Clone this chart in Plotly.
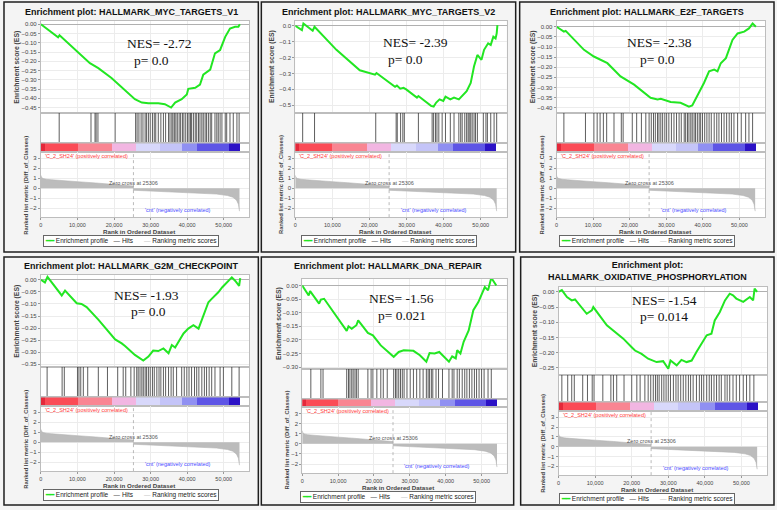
import plotly.graph_objects as go

# ------------------------------------------------------------------ data
TITLES = ["Enrichment plot: HALLMARK_MYC_TARGETS_V1",
          "Enrichment plot: HALLMARK_MYC_TARGETS_V2",
          "Enrichment plot: HALLMARK_E2F_TARGETS",
          "Enrichment plot: HALLMARK_G2M_CHECKPOINT",
          "Enrichment plot: HALLMARK_DNA_REPAIR",
          "Enrichment plot:<br>HALLMARK_OXIDATIVE_PHOSPHORYLATION"]
NES = ["-2.72", "-2.39", "-2.38", "-1.93", "-1.56", "-1.54"]
PVAL = ["0.0", "0.0", "0.0", "0.0", "0.021", "0.014"]

ZERO_CROSS = 25306
X_TICKS = [0, 10000, 20000, 30000, 40000, 50000]
X_TICK_LABELS = ["0", "10,000", "20,000", "30,000", "40,000", "50,000"]
RANK_TICKS = [-2, -1, 0, 1, 2, 3]
POS_LABEL = "'C_2_SH24' (positively correlated)"
NEG_LABEL = "'cnt' (negatively correlated)"
ZERO_LABEL = "Zero cross at 25306"

ES1_RANK = [0, 4700, 5100, 13400, 15700, 19300, 25700, 27600, 29400, 32100, 33900, 35600, 36700,
            38500, 39900, 40300, 42200, 43500, 44400, 46300, 47600, 49000, 50400, 51700, 53100, 54000, 54400]
ES1_SCORE = [0, -0.071, -0.059, -0.21, -0.237, -0.29, -0.405, -0.423, -0.427, -0.427, -0.432, -0.45, -0.423,
             -0.405, -0.379, -0.349, -0.343, -0.326, -0.272, -0.245, -0.157, -0.139, -0.068, -0.023, -0.014, -0.014, 0.0]
HITS1 = [5000, 13700, 14800, 15100, 15600, 20300, 25900, 26300, 26800, 27400, 27900, 28500, 28900, 29400,
         29900, 30500, 31000, 31400, 32100, 32800, 33500, 34100, 34900, 35300, 35800, 36100, 36500, 36900,
         37300, 37800, 38200, 38700, 39100, 39600, 40100, 40500, 40900, 41200, 41700, 42200, 42600, 43100,
         43500, 44000, 44400, 44900, 45300, 45800, 46300, 46700, 47600, 48100, 48500, 49000, 49500, 50400,
         50800, 51700, 52600, 53600, 54200]

ES2_RANK = [0, 1100, 1800, 2200, 4700, 5200, 11100, 17400, 21500, 21900, 26900, 27400, 28300, 29200, 29900,
            32800, 33200, 36600, 37300, 38000, 38900, 39900, 40500, 41800, 42800, 44100, 45000, 46200, 47300,
            48200, 49100, 50200, 50900, 52000, 52700, 53400, 54000, 54300, 54500]
ES2_SCORE = [0, -0.017, -0.027, 0.015, -0.031, -0.006, -0.151, -0.28, -0.307, -0.297, -0.384, -0.376, -0.396,
             -0.39, -0.40, -0.452, -0.442, -0.504, -0.508, -0.483, -0.463, -0.473, -0.446, -0.463, -0.452,
             -0.463, -0.442, -0.411, -0.359, -0.255, -0.183, -0.214, -0.151, -0.11, -0.12, -0.068, -0.079,
             -0.048, 0.004]
HITS2 = [2000, 5200, 21700, 27200, 27500, 28400, 29000, 29400, 33200, 36900, 37300, 37800, 38200, 38700,
         39600, 40500, 41800, 42800, 44100, 44600, 45000, 45700, 46200, 46600, 46900, 47300, 47700, 48200,
         48600, 49100, 50700, 51400, 51800, 52700, 53600, 54300]

ES3_RANK = [0, 2000, 2500, 7500, 10200, 13900, 17500, 21200, 25700, 27600, 28500, 31200, 33900, 36200,
            37100, 38500, 40300, 41700, 43100, 44000, 44900, 46300, 47200, 48100, 49500, 51300, 52600, 53600, 54500]
ES3_SCORE = [0, -0.024, -0.02, -0.114, -0.147, -0.18, -0.245, -0.286, -0.351, -0.359, -0.356, -0.372, -0.376,
             -0.395, -0.389, -0.343, -0.278, -0.220, -0.212, -0.220, -0.180, -0.155, -0.114, -0.065, -0.033,
             -0.024, -0.008, 0.016, 0.0]
HITS3 = [2000, 7900, 10200, 11100, 11900, 12800, 13700, 15700, 17700, 18200, 20700, 21900, 23200, 24400,
         25300, 25900, 26500, 27000, 27600, 28000, 28500, 29000, 29600, 30100, 30700, 31400, 32100, 32800,
         33500, 34100, 34900, 35300, 35800, 36200, 36700, 37100, 37600, 38000, 38500, 39000, 39400, 39900,
         40500, 41100, 41700, 42300, 43100, 43800, 44400, 45100, 45800, 46500, 47200, 47800, 48500, 49500,
         50500, 51700, 52600, 53600]

ES4_RANK = [0, 1100, 1800, 5700, 6600, 9800, 11100, 12500, 15700, 20300, 22100, 23000, 25700, 28000, 29400,
            30700, 32100, 33500, 34900, 35800, 36700, 37600, 39000, 40300, 41700, 43100, 44400, 45800, 46700,
            48500, 49600, 50800, 52200, 53100, 54200, 54500]
ES4_SCORE = [0, -0.011, 0.012, -0.065, -0.045, -0.097, -0.10, -0.113, -0.165, -0.247, -0.263, -0.274,
             -0.311, -0.334, -0.318, -0.293, -0.295, -0.284, -0.304, -0.270, -0.28, -0.256, -0.222, -0.202,
             -0.188, -0.202, -0.147, -0.093, -0.079, -0.052, -0.031, -0.011, 0.010, -0.004, -0.025, 0.007]
HITS4 = [1700, 5800, 6400, 10000, 10400, 10900, 11600, 12800, 15700, 18200, 21000, 22500, 23200, 24600,
         25500, 26200, 26600, 27100, 27600, 28000, 28500, 28900, 29400, 29900, 30500, 31000, 31700, 32300,
         32800, 33500, 34100, 34900, 35600, 36200, 37100, 38500, 39200, 39900, 40500, 41200, 42000, 42600,
         43200, 44000, 44700, 45300, 46000, 46700, 47600, 49000, 49900, 52200, 54200]

ES5_RANK = [0, 1100, 1800, 2200, 3800, 4700, 5200, 6100, 12400, 12900, 13800, 15100, 15600, 18300, 19700,
            21900, 25500, 26900, 28300, 31000, 32800, 34600, 35500, 36900, 38200, 39100, 40900, 41800, 42800,
            43200, 44100, 45000, 46400, 47700, 49100, 50900, 51800, 52700, 54100]
ES5_SCORE = [0, -0.024, -0.037, -0.021, -0.049, -0.067, -0.052, -0.049, -0.167, -0.150, -0.159, -0.146,
             -0.128, -0.174, -0.183, -0.22, -0.262, -0.244, -0.238, -0.240, -0.256, -0.28, -0.248, -0.25,
             -0.244, -0.256, -0.280, -0.26, -0.268, -0.238, -0.25, -0.207, -0.165, -0.091, -0.061, -0.006,
             -0.018, 0.028, 0.0]
HITS5 = [2400, 5200, 5800, 12400, 12900, 13300, 13800, 14200, 14700, 15100, 15600, 18300, 19200, 19700,
         20800, 21900, 22600, 23700, 25500, 26000, 26400, 26900, 27400, 27900, 28400, 29200, 30100, 31000,
         31900, 32800, 33700, 34600, 35100, 35500, 36000, 36400, 37300, 38000, 39100, 40900, 41800, 42300,
         43200, 43800, 44600, 45300, 45900, 46600, 47300, 48000, 48600, 49300, 50000, 50700, 51800, 52700]

ES6_RANK = [0, 900, 2300, 3600, 4500, 6800, 7700, 9100, 9500, 13200, 15000, 17700, 20000, 20900, 22700,
            24500, 26800, 28600, 30000, 30600, 32300, 33600, 35000, 36400, 37700, 39100, 40500, 41800, 42700,
            44100, 45500, 46800, 47700, 48600, 50500, 52300, 53200, 53600, 54300]
ES6_SCORE = [0, 0.006, -0.017, -0.028, -0.025, -0.061, -0.072, -0.061, -0.05, -0.110, -0.127, -0.154,
             -0.182, -0.193, -0.204, -0.220, -0.231, -0.228, -0.253, -0.226, -0.242, -0.224, -0.231, -0.226,
             -0.198, -0.171, -0.143, -0.138, -0.094, -0.066, -0.028, -0.006, -0.011, -0.022, -0.033, -0.017,
             -0.028, 0.011, 0.0]
HITS6 = [900, 2500, 3600, 4300, 6600, 7900, 9200, 9700, 12100, 14300, 15000, 15900, 17900, 20000, 21400,
         22300, 23600, 24500, 25200, 25900, 26500, 27000, 27500, 28200, 28800, 29400, 30000, 30600, 31400,
         32100, 32700, 33400, 34100, 34800, 35500, 36100, 36800, 37700, 38500, 39100, 39700, 40500, 41200,
         41800, 42500, 43200, 43900, 44500, 45500, 46100, 46800, 47700, 48600, 49500, 50500, 51400, 52300, 53400]

RANK_X = [0, 150, 600, 1500, 3000, 5000, 10000, 15000, 20000, 25300, 25306, 30000, 35000, 40000, 44000,
          48000, 51000, 52500, 53500, 54000, 54300]
RANK_METRIC = [1.3, 1.1, 0.98, 0.9, 0.85, 0.78, 0.66, 0.53, 0.4, 0.22, -0.2, -0.27, -0.33, -0.4, -0.47,
               -0.58, -0.73, -0.9, -1.2, -1.6, -2.3]

SEG_EDGES = [0, 1000, 10000, 19300, 25900, 32500, 38500, 42600, 51300, 54300]

# ------------------------------------------------------------------ styles / layout
SEG_COLORS = ['#e4283a', '#fb4b56', '#f98592', '#f2b6e2', '#d8d8fb', '#c4c4f8', '#9090f2', '#5e55e6', '#2c12c6']
W, H = 777, 510
X_MAX = 57000
SANS = "Liberation Sans"
SERIF = "Liberation Serif"

ES_DATA = [(ES1_RANK, ES1_SCORE, HITS1), (ES2_RANK, ES2_SCORE, HITS2), (ES3_RANK, ES3_SCORE, HITS3),
           (ES4_RANK, ES4_SCORE, HITS4), (ES5_RANK, ES5_SCORE, HITS5), (ES6_RANK, ES6_SCORE, HITS6)]

ES_AXES = [dict(range=[-0.477, 0.018], dtick=0.05, fmt='.2f'),
           dict(range=[-0.546, 0.031], dtick=0.1, fmt='.1f'),
           dict(range=[-0.424, 0.029], dtick=0.05, fmt='.2f'),
           dict(range=[-0.359, 0.020], dtick=0.05, fmt='.2f'),
           dict(range=[-0.305, 0.024], dtick=0.05, fmt='.2f'),
           dict(range=[-0.272, 0.0165], dtick=0.05, fmt='.2f')]

GEOM = [
    dict(box=(2, 2, 257, 253), px=(39, 248), es=(21, 113), hb=144, cb=153, rb=218, ty=12, nes=(158, 44), pv=(150, 61)),
    dict(box=(260, 2, 515, 253), px=(294, 506), es=(21, 113), hb=144, cb=153, rb=218, ty=12, nes=(415, 43), pv=(405, 60)),
    dict(box=(519, 2, 774, 253), px=(556, 765), es=(21, 113), hb=144, cb=153, rb=218, ty=12, nes=(659, 43), pv=(657, 60)),
    dict(box=(2, 258, 257, 507), px=(39, 248), es=(276, 368), hb=399, cb=408, rb=473, ty=267, nes=(145, 297), pv=(147, 313)),
    dict(box=(260, 258, 513, 507), px=(301, 506), es=(280, 370), hb=401, cb=409, rb=475, ty=267, nes=(401, 300), pv=(401, 317)),
    dict(box=(520, 258, 774, 507), px=(558, 767), es=(288, 376), hb=404, cb=413, rb=477, ty=272.5, nes=(664, 302), pv=(664, 318)),
]


def fx(x):
    return x / W


def fy(y):
    return 1 - y / H


layout = dict(width=W, height=H, autosize=False, margin=dict(l=0, r=0, t=0, b=0, pad=0),
              paper_bgcolor='#f4f4f4', plot_bgcolor='white', showlegend=False,
              font=dict(family=SANS, size=6, color='#444'))
traces = []
annotations = []
shapes = []
counter = [0]

FRAME = dict(showline=True, mirror=True, linecolor='#bdbdbd', linewidth=1, zeroline=False, fixedrange=True)


def new_axes(xdom, ydom, xkw, ykw):
    counter[0] += 1
    s = '' if counter[0] == 1 else str(counter[0])
    xa = dict(FRAME, domain=xdom, anchor='y' + s, range=[0, X_MAX])
    xa.update(xkw)
    ya = dict(FRAME, domain=ydom, anchor='x' + s)
    ya.update(ykw)
    layout['xaxis' + s] = xa
    layout['yaxis' + s] = ya
    return 'x' + s, 'y' + s


def ann(text, x, y, size, color='#333', family=SANS, angle=0, xanchor='center', **kw):
    d = dict(text=text, x=fx(x), y=fy(y), xref='paper', yref='paper', showarrow=False,
             font=dict(size=size, color=color, family=family), textangle=angle,
             xanchor=xanchor, yanchor='middle')
    d.update(kw)
    annotations.append(d)


NOTICK = dict(showticklabels=False, ticks='', showgrid=False)
GRID = '#ececec'

for i, g in enumerate(GEOM):
    es_x, es_y, hits = ES_DATA[i]
    x0, x1 = g['px']
    xdom = [fx(x0), fx(x1)]
    L, T, R, B = g['box']
    shapes.append(dict(type='rect', xref='paper', yref='paper', x0=fx(L), x1=fx(R), y0=fy(B), y1=fy(T),
                       line=dict(color='#1e1e1e', width=1.5), layer='below'))

    # --- ES plot
    ea = ES_AXES[i]
    xa, ya = new_axes(xdom, [fy(g['es'][1]), fy(g['es'][0])],
                      dict(showticklabels=False, ticks='', showgrid=True, gridcolor=GRID, tickvals=X_TICKS),
                      dict(range=ea['range'], dtick=ea['dtick'], tick0=0, tickformat=ea['fmt'],
                           ticks='outside', ticklen=2, tickcolor='#999', tickfont=dict(size=6, color='#444'),
                           showgrid=True, gridcolor=GRID, zeroline=True, zerolinecolor='#b0b0b0',
                           zerolinewidth=1))
    traces.append(go.Scatter(x=es_x, y=es_y, mode='lines', line=dict(color='#22e622', width=2),
                             xaxis=xa, yaxis=ya, hoverinfo='skip'))

    # --- hits
    xa, ya = new_axes(xdom, [fy(g['hb']), fy(g['es'][1])], dict(NOTICK), dict(NOTICK, range=[0, 1]))
    hx, hy = [], []
    for h in hits:
        hx += [h, h, None]
        hy += [0, 1, None]
    traces.append(go.Scatter(x=hx, y=hy, mode='lines', line=dict(color='rgba(30,30,30,0.8)', width=0.9),
                             xaxis=xa, yaxis=ya, hoverinfo='skip'))

    # --- colour bar
    xa, ya = new_axes(xdom, [fy(g['cb']), fy(g['hb'])], dict(NOTICK), dict(NOTICK, range=[0, 1]))
    centers = [(a + b) / 2 for a, b in zip(SEG_EDGES[:-1], SEG_EDGES[1:])]
    widths = [b - a for a, b in zip(SEG_EDGES[:-1], SEG_EDGES[1:])]
    traces.append(go.Bar(x=centers, y=[1] * len(centers), width=widths, base=0,
                         marker=dict(color=SEG_COLORS, line=dict(width=0)),
                         xaxis=xa, yaxis=ya, hoverinfo='skip'))

    # --- ranked list metric
    xa, ya = new_axes(xdom, [fy(g['rb']), fy(g['cb'])],
                      dict(tickvals=X_TICKS, ticktext=X_TICK_LABELS, ticks='outside', ticklen=2,
                           tickcolor='#999', tickfont=dict(size=5.5, color='#444'), showgrid=True, gridcolor=GRID),
                      dict(range=[-2.9, 3.6], tickvals=RANK_TICKS, ticks='outside', ticklen=2, tickcolor='#999',
                           tickfont=dict(size=6, color='#444'), showgrid=True, gridcolor=GRID))
    traces.append(go.Scatter(x=RANK_X, y=RANK_METRIC, mode='lines', fill='tozeroy', fillcolor='#bcbcbc',
                             line=dict(color='#b4b4b4', width=0.6), xaxis=xa, yaxis=ya, hoverinfo='skip'))
    traces.append(go.Scatter(x=[ZERO_CROSS, ZERO_CROSS], y=[-2.9, 3.6], mode='lines',
                             line=dict(color='#aaaaaa', width=0.8, dash='dot'), xaxis=xa, yaxis=ya,
                             hoverinfo='skip'))
    annotations.append(dict(text=ZERO_LABEL, x=ZERO_CROSS, y=0.55, xref=xa, yref=ya, showarrow=False,
                            font=dict(size=5.5, color='#555', family=SANS), xanchor='center', yanchor='middle'))
    annotations.append(dict(text=NEG_LABEL, x=37500, y=-2.15, xref=xa, yref=ya, showarrow=False,
                            font=dict(size=5.5, color='#4a4aff', family=SANS), xanchor='center',
                            yanchor='middle'))
    ann(POS_LABEL, x0 + 2, g['cb'] + 3.5, 5.5, color='#ff3a3a', xanchor='left')

    # --- titles & texts
    ann("<b>%s</b>" % TITLES[i], (L + R) / 2, g['ty'], 9.0, color='#111')
    ann("<b>Enrichment score (ES)</b>", x0 - 24, (g['es'][0] + g['es'][1]) / 2, 6.8, color='#444', angle=-90)
    ann("<b>Ranked list metric (Diff_of_Classes)</b>", x0 - 15, (g['cb'] + g['rb']) / 2, 5.8,
        color='#444', angle=-90)
    ann("<b>Rank in Ordered Dataset</b>", (x0 + x1) / 2 - 6, g['rb'] + 14, 6.2, color='#444')
    ann("NES= %s" % NES[i], g['nes'][0], g['nes'][1], 13.5, color='#111', family=SERIF)
    ann("p= %s" % PVAL[i], g['pv'][0], g['pv'][1], 13.5, color='#111', family=SERIF)
    legend_text = ("<span style='color:#22e622'><b>━━</b></span> Enrichment profile   "
                   "<span style='color:#555'>—</span> Hits      "
                   "<span style='color:#c8c8c8'>—</span> Ranking metric scores")
    ann(legend_text, (L + R) / 2, g['rb'] + 23.5, 6.5, color='#222', bgcolor='white',
        bordercolor='#666', borderwidth=1, borderpad=1)

layout['annotations'] = annotations
layout['shapes'] = shapes
layout['bargap'] = 0

fig = go.Figure(data=traces, layout=layout)
fig.write_html("out.html", config={'displayModeBar': False},
               post_script="document.body.style.margin='0';document.body.style.padding='0';"
                           "document.body.style.overflow='hidden';")
